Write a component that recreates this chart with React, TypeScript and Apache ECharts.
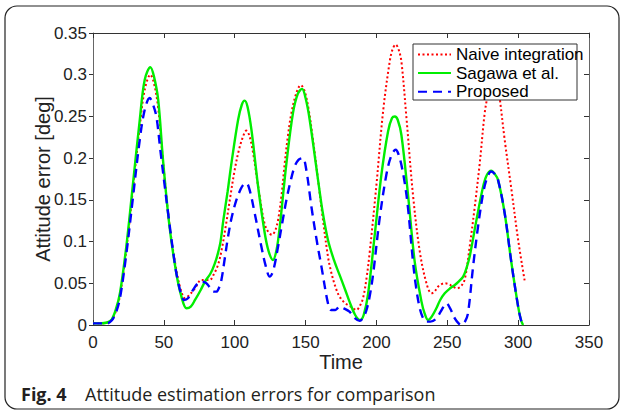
import React, { useEffect, useRef } from "react";
import * as echarts from "echarts";

// ---- data ----
const seriesNames = ["Naive integration", "Sagawa et al.", "Proposed"];

const naiveT = [0, 5, 10, 13, 16, 19, 23.5, 28, 33, 36.5, 40.5, 43, 46, 49.4, 54, 58.8, 62, 65, 68, 72, 76.5, 80, 82.4, 85, 88.2, 91, 94, 97, 100, 103, 105.9, 108.2, 110.5, 113, 116, 118.8, 121, 123.5, 126.3, 128.5, 130.6, 133, 135.3, 137.5, 140, 143.5, 146.6, 149, 151.8, 155, 158.8, 162, 165.8, 168, 171, 174, 178, 182, 185.9, 188, 190.5, 193, 195.3, 200, 204.7, 209.4, 211.5, 213.6, 215.5, 217.6, 221.2, 225.8, 230.6, 235.3, 238.8, 241, 243.5, 248.2, 251, 254, 257, 260, 262.5, 265.8, 269.4, 272.9, 276.4, 278.8, 281, 283, 285, 287, 290.5, 295.3, 300, 304.7];
const naiveV = [0.002, 0.002, 0.003, 0.006, 0.016, 0.035, 0.09, 0.16, 0.238, 0.282, 0.3, 0.29, 0.26, 0.196, 0.12, 0.066, 0.042, 0.032, 0.036, 0.044, 0.054, 0.054, 0.054, 0.06, 0.072, 0.092, 0.122, 0.155, 0.186, 0.21, 0.226, 0.233, 0.226, 0.206, 0.172, 0.142, 0.122, 0.112, 0.108, 0.113, 0.126, 0.155, 0.194, 0.226, 0.254, 0.278, 0.2875, 0.282, 0.262, 0.225, 0.174, 0.13, 0.082, 0.064, 0.046, 0.034, 0.026, 0.022, 0.018, 0.022, 0.032, 0.056, 0.088, 0.168, 0.256, 0.316, 0.331, 0.336, 0.331, 0.316, 0.248, 0.156, 0.088, 0.05, 0.038, 0.04, 0.046, 0.05, 0.049, 0.046, 0.044, 0.047, 0.056, 0.094, 0.142, 0.194, 0.254, 0.278, 0.298, 0.304, 0.296, 0.272, 0.222, 0.162, 0.102, 0.052];

const sagawaT = [0, 5, 10, 13, 16, 19, 23.5, 28, 33, 36.5, 40.5, 43, 46, 49.4, 54, 58.8, 62.4, 66, 69, 72, 76, 79, 83, 86, 88, 90, 92, 95, 97.7, 102.4, 105, 107, 109, 111.8, 116.5, 121.2, 124, 127, 129.5, 131.8, 136.5, 141.1, 144.5, 147.5, 150, 152.9, 158.8, 162, 165.8, 170, 174, 178, 181, 185, 188.5, 191, 194, 198.8, 203.5, 208.2, 211, 213, 215, 217.6, 222.3, 227, 231.8, 234, 236.5, 239, 242.3, 245, 248.2, 252, 255.3, 258, 261.2, 263.5, 265.8, 270.6, 275.3, 278, 281, 283.5, 285.8, 290.5, 295.3, 300, 302, 303.5];
const sagawaV = [0.002, 0.002, 0.003, 0.006, 0.018, 0.038, 0.094, 0.166, 0.246, 0.294, 0.309, 0.298, 0.27, 0.198, 0.118, 0.062, 0.034, 0.02, 0.022, 0.03, 0.042, 0.052, 0.062, 0.074, 0.085, 0.1, 0.126, 0.16, 0.194, 0.246, 0.264, 0.269, 0.262, 0.234, 0.166, 0.11, 0.088, 0.078, 0.09, 0.118, 0.194, 0.254, 0.277, 0.283, 0.272, 0.246, 0.174, 0.136, 0.102, 0.078, 0.06, 0.042, 0.028, 0.012, 0.006, 0.012, 0.036, 0.108, 0.18, 0.232, 0.248, 0.25, 0.246, 0.228, 0.156, 0.076, 0.028, 0.014, 0.006, 0.01, 0.02, 0.03, 0.038, 0.044, 0.048, 0.052, 0.058, 0.068, 0.082, 0.126, 0.166, 0.18, 0.185, 0.181, 0.174, 0.134, 0.074, 0.022, 0.006, 0];

const proposedT = [0, 5, 10, 13, 16, 19, 23.5, 28, 33, 36.5, 40, 42, 44.7, 47.5, 50, 53, 57.7, 60, 62.4, 64.3, 67, 70.6, 74, 77, 80, 82, 85, 87, 89, 90.6, 93, 95.3, 98, 101.2, 104, 106, 108.2, 110.5, 114.1, 118.8, 122, 124.7, 127, 130.6, 133.5, 136.5, 139.5, 142.3, 145, 148, 150.5, 154.1, 158, 161.2, 165.8, 168, 171, 174, 177, 181, 185, 188.2, 191, 193, 195.3, 197.6, 202.3, 207, 210.5, 213.6, 215.5, 217.6, 220, 222.3, 225.8, 228, 230.6, 233, 235.3, 238, 242.3, 246, 249.4, 252, 255.3, 258, 260, 262.5, 264.6, 268.2, 271.7, 275.3, 278, 281, 283.5, 285.8, 290.5, 295.3, 300, 302, 303.5];
const proposedV = [0.002, 0.002, 0.002, 0.005, 0.014, 0.032, 0.085, 0.15, 0.222, 0.258, 0.272, 0.266, 0.25, 0.21, 0.175, 0.134, 0.074, 0.052, 0.036, 0.03, 0.032, 0.042, 0.05, 0.052, 0.05, 0.046, 0.04, 0.04, 0.045, 0.054, 0.08, 0.106, 0.13, 0.15, 0.162, 0.168, 0.17, 0.162, 0.134, 0.094, 0.07, 0.058, 0.064, 0.094, 0.122, 0.15, 0.173, 0.19, 0.198, 0.2, 0.186, 0.142, 0.1, 0.07, 0.026, 0.018, 0.018, 0.022, 0.02, 0.016, 0.008, 0.005, 0.01, 0.018, 0.035, 0.06, 0.128, 0.18, 0.203, 0.21, 0.205, 0.192, 0.17, 0.14, 0.076, 0.045, 0.02, 0.008, 0.004, 0.004, 0.008, 0.018, 0.026, 0.02, 0.008, 0.002, 0, 0.004, 0.014, 0.07, 0.118, 0.158, 0.176, 0.184, 0.181, 0.174, 0.134, 0.074, 0.022, 0.006, 0];

const xTicks = { min: 0, max: 350, interval: 50 };
const yTicks = { min: 0, max: 0.35, interval: 0.05 };

const captionBold = "Fig. 4";
const captionText = "Attitude estimation errors for comparison";
const xName = "Time";
const yName = "Attitude error [deg]";

const zip = (t: number[], v: number[]) => t.map((x, i) => [x, v[i]]);

export default function App() {
  const ref = useRef<HTMLDivElement>(null);
  useEffect(() => {
    const chart = echarts.init(ref.current!, null, { renderer: "svg" });
    const axisColor = "#333";
    const font = "Liberation Sans";
    const baseX = {
      type: "value",
      min: xTicks.min,
      max: xTicks.max,
      interval: xTicks.interval,
      splitLine: { show: false },
      axisLine: { show: true, onZero: false, lineStyle: { color: axisColor, width: 1 } },
      axisTick: { show: true, inside: true, length: 5, lineStyle: { color: axisColor } },
    };
    const baseY = {
      type: "value",
      min: yTicks.min,
      max: yTicks.max,
      interval: yTicks.interval,
      splitLine: { show: false },
      axisLine: { show: true, onZero: false, lineStyle: { color: "#666", width: 1 } },
      axisTick: { show: true, inside: true, length: 5, lineStyle: { color: axisColor } },
    };
    const option: any = {
      animation: false,
      backgroundColor: "#fff",
      grid: { left: 93, top: 33, right: 35, bottom: 91, containLabel: false },
      xAxis: [
        {
          ...baseX,
          position: "bottom",
          axisLabel: { fontSize: 17, color: "#222", fontFamily: font, margin: 9 },
          name: xName,
          nameLocation: "middle",
          nameGap: 27,
          nameMoveOverlap: false,
          nameTextStyle: { fontSize: 20, color: "#222", fontFamily: font },
        },
        { ...baseX, position: "top", axisLabel: { show: false } },
      ],
      yAxis: [
        {
          ...baseY,
          position: "left",
          axisTick: { show: true, inside: false, length: 4, lineStyle: { color: axisColor } },
          axisLabel: {
            fontSize: 17,
            color: "#222",
            fontFamily: font,
            margin: 6,
            formatter: (v: number) => String(parseFloat(v.toFixed(2))),
          },
          name: yName,
          nameLocation: "middle",
          nameGap: 40,
          nameMoveOverlap: false,
          nameTextStyle: { fontSize: 20, color: "#222", fontFamily: font },
        },
        { ...baseY, position: "right", axisLabel: { show: false } },
      ],
      legend: {
        orient: "vertical",
        left: 413,
        top: 44,
        padding: [2, 4, 2, 4],
        itemWidth: 33,
        itemHeight: 10,
        itemGap: 1.6,
        backgroundColor: "transparent",
        itemStyle: { opacity: 0 },
        textStyle: { fontSize: 17, color: "#000", fontFamily: font, lineHeight: 16 },
        data: seriesNames,
        z: 6,
      },
      graphic: [
        {
          type: "rect",
          z: 5,
          shape: { x: 5, y: 6, width: 614, height: 403, r: 12 },
          style: { fill: "none", stroke: "#222", lineWidth: 1.2 },
        },
        {
          type: "rect",
          z: 5,
          shape: { x: 413, y: 44, width: 164, height: 56 },
          style: { fill: "#fff", stroke: "#333", lineWidth: 1 },
        },
        {
          type: "text",
          z: 5,
          x: 21,
          y: 394,
          style: {
            text: captionBold,
            fontFamily: "Open Sans",
            fontWeight: "bold",
            fontSize: 18,
            fill: "#231f20",
            verticalAlign: "middle",
          },
        },
        {
          type: "text",
          z: 5,
          x: 85,
          y: 394,
          style: {
            text: captionText,
            fontFamily: "Open Sans",
            fontSize: 18,
            fill: "#231f20",
            verticalAlign: "middle",
          },
        },
      ],
      series: [
        {
          name: seriesNames[0],
          type: "line",
          data: zip(naiveT, naiveV),
          symbol: "none",
          smooth: 0.35,
          lineStyle: { color: "#ff0000", width: 2, type: [2, 2.5] },
          itemStyle: { color: "#ff0000" },
          z: 2,
        },
        {
          name: seriesNames[1],
          type: "line",
          data: zip(sagawaT, sagawaV),
          symbol: "none",
          smooth: 0.35,
          lineStyle: { color: "#00ee00", width: 2.4, type: "solid" },
          itemStyle: { color: "#00ee00" },
          z: 2,
        },
        {
          name: seriesNames[2],
          type: "line",
          data: zip(proposedT, proposedV),
          symbol: "none",
          smooth: 0.35,
          lineStyle: { color: "#0000ff", width: 2.4, type: [9, 6] },
          itemStyle: { color: "#0000ff" },
          z: 3,
        },
      ],
    };
    chart.setOption(option);
    return () => chart.dispose();
  }, []);
  return (
    <div
      ref={ref}
      style={{ position: "fixed", left: 0, top: 0, width: 624, height: 416, background: "#fff" }}
    />
  );
}
